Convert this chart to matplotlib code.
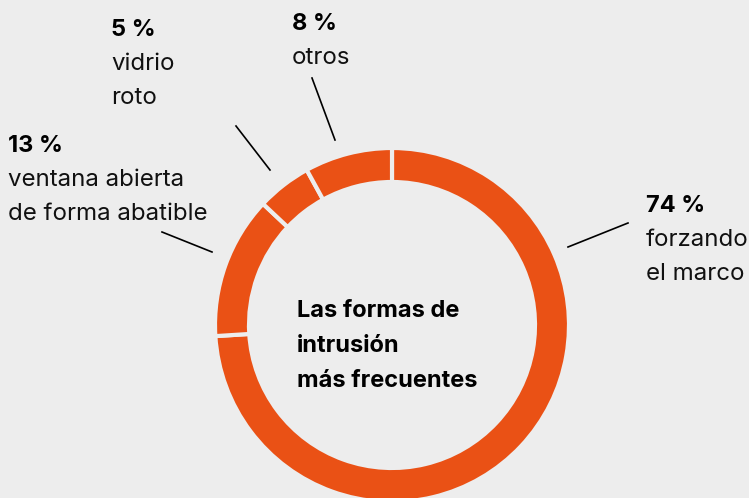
import matplotlib.pyplot as plt

# Intrusion methods (share in %), clockwise from the top
labels = ["forzando\nel marco", "ventana abierta\nde forma abatible", "vidrio\nroto", "otros"]
shares = [74, 13, 5, 8]
title = "Las formas de\nintrusión\nmás frecuentes"

orange = "#EA5115"
bg = "#EDEDED"
W, H = 749, 498

plt.rcParams["font.family"] = ["Inter", "DejaVu Sans"]

fig = plt.figure(figsize=(W / 100, H / 100), dpi=100, facecolor=bg)
ax = fig.add_axes([0, 0, 1, 1])
ax.set_xlim(0, W)
ax.set_ylim(0, H)
ax.set_aspect("equal")
ax.axis("off")

# donut ring; segment edges in the background colour make the gaps
ax.pie(shares, startangle=90, counterclock=False, center=(392, H - 325),
       radius=177, colors=[orange] * len(shares),
       wedgeprops=dict(width=34, edgecolor=bg, linewidth=3))
ax.set_xlim(0, W)
ax.set_ylim(0, H)

fs = 17

def label(x, y, value, text, line_gap=34):
    # y values are pixel baselines counted from the top
    ax.text(x, H - y, f"{value} %", fontsize=fs, fontweight="bold",
            va="baseline", ha="left")
    for i, part in enumerate(text.split("\n")):
        ax.text(x, H - (y + line_gap * (i + 1)), part, fontsize=fs + 0.3,
                va="baseline", ha="left", color="#111111")

label(646, 212, shares[0], labels[0])
label(8, 152, shares[1], labels[1])
label(111, 36, shares[2], labels[2])
label(292, 30, shares[3], labels[3])

# leader lines
leaders = [((568, 247), (628, 223)),
           ((162, 232), (212, 252)),
           ((236, 126), (270, 170)),
           ((312, 78), (335, 140))]
for (x0, y0), (x1, y1) in leaders:
    ax.plot([x0, x1], [H - y0, H - y1], color="black", lw=1.2)

for i, part in enumerate(title.split("\n")):
    ax.text(297, H - (317 + 35 * i), part, fontsize=fs, fontweight="bold",
            va="baseline", ha="left")

fig.savefig("out.png", dpi=100, facecolor=bg)
